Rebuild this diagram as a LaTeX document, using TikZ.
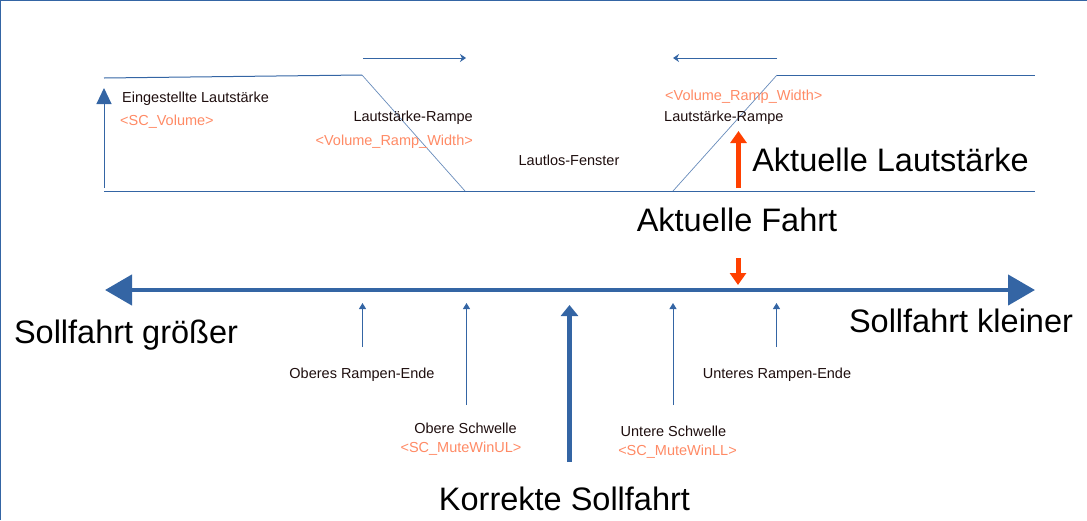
\documentclass[tikz,border=0pt]{standalone}
\usepackage{fontspec}
\setmainfont{Liberation Sans}
\usetikzlibrary{arrows.meta}
\definecolor{lblue}{HTML}{3465A4}
\definecolor{lorange}{HTML}{FF8A65}
\definecolor{rorange}{HTML}{FF4000}
\definecolor{dtext}{HTML}{1E0E0E}
\begin{document}
\begin{tikzpicture}[x=1pt,y=-1pt,
  small/.style={font=\fontsize{14.5}{16}\selectfont, text=dtext, inner sep=0pt},
  param/.style={font=\fontsize{14.5}{16}\selectfont, text=lorange, inner sep=0pt},
  big/.style={font=\fontsize{32.5}{36}\selectfont, text=black, inner sep=0pt},
  thinline/.style={draw=lblue, line width=1pt},
  rampline/.style={draw=lblue!75, line width=0.7pt},
  tick/.style={draw=lblue, line width=1pt, -{Triangle[length=6pt,width=7pt]}},
  widtharrow/.style={draw=lblue, line width=1pt, -{Stealth[length=6pt,width=8pt,inset=2pt]}},
  thickarrow/.style={draw=lblue, line width=5pt, -{Triangle[length=11pt,width=17pt]}},
  axisarrow/.style={draw=lblue, line width=4.5pt, {Triangle[length=27pt,width=30pt]}-{Triangle[length=27pt,width=30pt]}},
  redarrow/.style={draw=rorange, line width=5pt, -{Triangle[length=12pt,width=16pt]}},
  volarrow/.style={draw=lblue, line width=1pt, -{Triangle[length=16pt,width=15pt]}}
]
\useasboundingbox (0,0) rectangle (1087,520);
% frame
\coordinate (tl) at (0.5,0.5);
\coordinate (tr) at (1087,0.5);
\coordinate (bl) at (0.5,520);
\draw[lblue, line width=1pt] (bl) -- (tl) -- (tr);

% volume curve
\coordinate (v0) at (104,78);
\coordinate (v1) at (362,75);
\coordinate (v2) at (465,191);
\coordinate (v3) at (673,191);
\coordinate (v4) at (777,75);
\coordinate (v5) at (1035,75);
\coordinate (b0) at (104,191);
\coordinate (b1) at (1035,191);
\draw[thinline] (v0) -- (v1);
\draw[rampline] (v1) -- (v2);
\draw[rampline] (v3) -- (v4);
\draw[thinline] (v4) -- (v5);
\draw[thinline] (b0) -- (b1);

% volume arrow
\coordinate (va0) at (104,188);
\coordinate (va1) at (104,88);
\draw[volarrow] (va0) -- (va1);

% ramp width arrows
\coordinate (wl0) at (363,58);
\coordinate (wl1) at (466,58);
\coordinate (wr0) at (777,58);
\coordinate (wr1) at (673,58);
\draw[widtharrow] (wl0) -- (wl1);
\draw[widtharrow] (wr0) -- (wr1);

% labels top
\node[small, anchor=base west] (eing) at (122,102) {Eingestellte Lautstärke};
\node[param, anchor=base west] (scvol) at (120,125) {<SC\_Volume>};
\node[small, anchor=base east] (rampL) at (473,121) {Lautstärke-Rampe};
\node[param, anchor=base east] (vrwL) at (473,145) {<Volume\_Ramp\_Width>};
\node[small, anchor=base] (lautlos) at (569,165) {Lautlos-Fenster};
\node[param, anchor=base west] (vrwR) at (665,100) {<Volume\_Ramp\_Width>};
\node[small, anchor=base west] (rampR) at (664,121) {Lautstärke-Rampe};
\node[big, anchor=base] (aktL) at (890.5,171) {Aktuelle Lautstärke};
\node[big, anchor=base] (aktF) at (737,231) {Aktuelle Fahrt};

% red arrows
\coordinate (ru0) at (738.5,188);
\coordinate (ru1) at (738.5,131);
\draw[redarrow] (ru0) -- (ru1);
\coordinate (rd0) at (738,258);
\coordinate (rd1) at (738,285);
\draw[redarrow] (rd0) -- (rd1);

% main axis
\coordinate (axL) at (105,290);
\coordinate (axR) at (1035,290);
\draw[axisarrow] (axL) -- (axR);
\node[big, anchor=base] (groesser) at (126,343) {Sollfahrt größer};
\node[big, anchor=base] (kleiner) at (961,332) {Sollfahrt kleiner};

% ticks
\coordinate (t1a) at (362.5,347);
\coordinate (t1b) at (362.5,303);
\coordinate (t2a) at (466.5,405);
\coordinate (t2b) at (466.5,303);
\coordinate (t3a) at (673,405);
\coordinate (t3b) at (673,303);
\coordinate (t4a) at (776.5,347);
\coordinate (t4b) at (776.5,303);
\draw[tick] (t1a) -- (t1b);
\draw[tick] (t2a) -- (t2b);
\draw[tick] (t3a) -- (t3b);
\draw[tick] (t4a) -- (t4b);
\coordinate (ka) at (569.5,462);
\coordinate (kb) at (569.5,305);
\draw[thickarrow] (ka) -- (kb);

% labels bottom
\node[small, anchor=base] (oberesRE) at (362,378) {Oberes Rampen-Ende};
\node[small, anchor=base] (unteresRE) at (777,378) {Unteres Rampen-Ende};
\node[small, anchor=base] (obereS) at (465.5,433) {Obere Schwelle};
\node[param, anchor=base] (mwul) at (461,452) {<SC\_MuteWinUL>};
\node[small, anchor=base] (untereS) at (673.5,436.5) {Untere Schwelle};
\node[param, anchor=base] (mwll) at (677.5,455) {<SC\_MuteWinLL>};
\node[big, anchor=base] (korrekt) at (564.5,510) {Korrekte Sollfahrt};
\end{tikzpicture}
\end{document}
